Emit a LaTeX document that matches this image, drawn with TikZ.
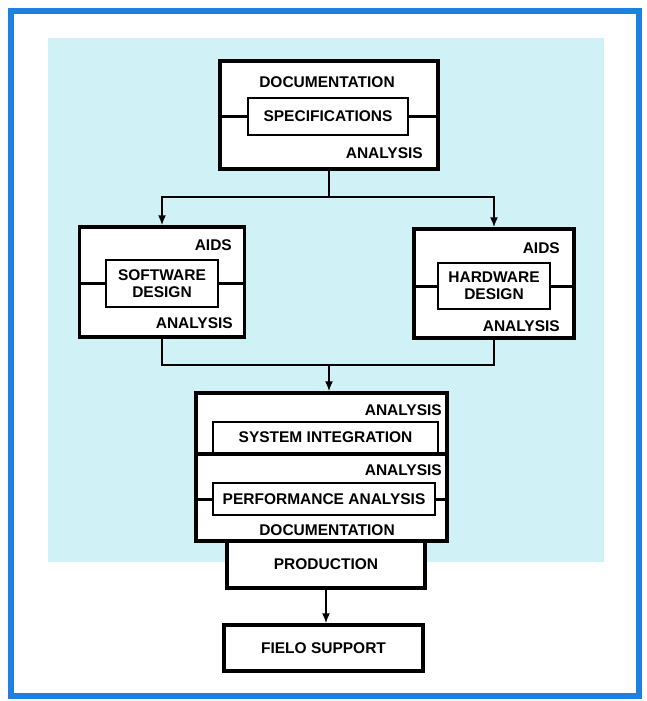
\documentclass[tikz,border=0pt]{standalone}
\usepackage{fontspec}
\setmainfont{Liberation Sans}
\usetikzlibrary{arrows.meta}

\definecolor{frameblue}{RGB}{28,128,228}
\definecolor{paleaqua}{RGB}{208,241,245}

\begin{document}
\begin{tikzpicture}[
    x=1pt,y=-1pt,
    every node/.style={font=\fontsize{15.5}{17}\selectfont\bfseries,inner sep=0pt},
    outer/.style={draw,line width=3.4pt,fill=white},
    inner/.style={draw,line width=2.1pt,fill=white,align=center},
    stub/.style={line width=3pt},
    link/.style={line width=1.8pt},
    arr/.style={link,-{Latex[length=10pt,width=8pt]}}]
    \useasboundingbox (0,0) rectangle (646,701);

    \fill[paleaqua] (48,38) rectangle (604,562);
    \draw[frameblue,line width=6pt] (11,11) rectangle (639,696);

    % specifications
    \node[outer,minimum width=218pt,minimum height=108pt] (spec) at (329,115) {};
    \node[inner,minimum width=160pt,minimum height=37pt] (specin) at (328,116.5) {SPECIFICATIONS};
    \node (specdoc) at (327,82) {DOCUMENTATION};
    \node[anchor=east] (specana) at (423,153) {ANALYSIS};

    % software / hardware
    \node[outer,minimum width=165pt,minimum height=110pt] (sw) at (162,282) {};
    \node[inner,minimum width=112pt,minimum height=47pt] (swin) at (162,283.5) {SOFTWARE\\DESIGN};
    \node[anchor=east] (swaids) at (232,245) {AIDS};
    \node[anchor=east] (swana) at (233,323) {ANALYSIS};

    \node[outer,minimum width=160pt,minimum height=109pt] (hw) at (494,283.5) {};
    \node[inner,minimum width=112pt,minimum height=46pt] (hwin) at (494,286) {HARDWARE\\DESIGN};
    \node[anchor=east] (hwaids) at (560,248) {AIDS};
    \node[anchor=east] (hwana) at (560,326) {ANALYSIS};

    % integration block
    \node[outer,minimum width=251pt,minimum height=148pt] (big) at (321.5,467) {};
    \node[anchor=east] (bigana) at (442,410) {ANALYSIS};
    \node[inner,minimum width=225pt,minimum height=31pt] (sysint) at (325.5,437.5) {SYSTEM INTEGRATION};
    \draw[outer] (big.west |- sysint.south) -- (big.east |- sysint.south);
    \node[anchor=east] (perfana) at (442,470) {ANALYSIS};
    \node[inner,minimum width=222pt,minimum height=32pt] (perf) at (324,499) {PERFORMANCE ANALYSIS};
    \node (bigdoc) at (327,530) {DOCUMENTATION};

    \node[outer,minimum width=198pt,minimum height=47pt] (prod) at (326,564.5) {PRODUCTION};
    \node[outer,minimum width=199pt,minimum height=46pt] (field) at (323.5,648) {FIELO SUPPORT};

    \foreach \o/\i in {spec/specin,sw/swin,hw/hwin,big/perf} {
        \draw[stub] (\o.west |- \i) -- (\i.west) (\i.east) -- (\o.east |- \i);
    }

    \coordinate (split) at (329,197);
    \coordinate (join) at (329,365);
    \draw[link] (spec) -- (split);
    \draw[arr] (split) -| (sw);
    \draw[arr] (split) -| (hw);
    \draw[link] (sw) |- (join);
    \draw[link] (hw) |- (join);
    \draw[arr] (join) -- (join |- big.north);
    \draw[arr] (prod) -- (prod |- field.north);
\end{tikzpicture}
\end{document}
